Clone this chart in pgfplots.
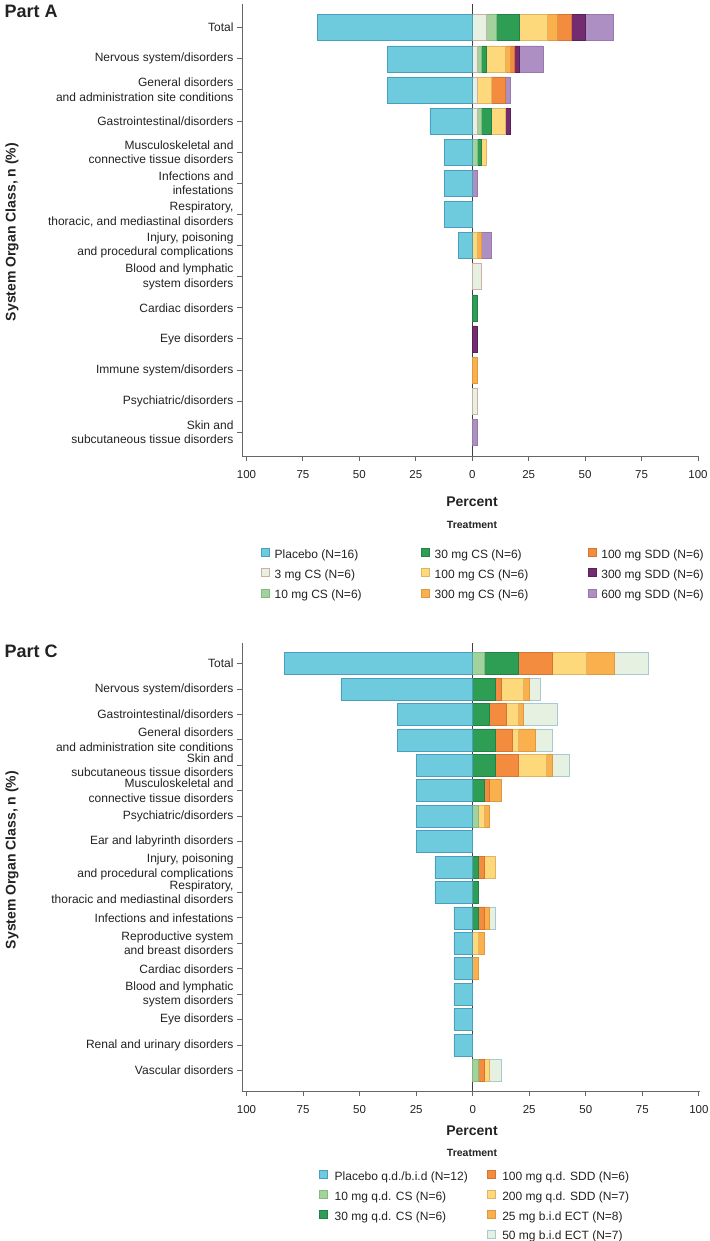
\documentclass[border=0pt]{standalone}
\usepackage{fontspec}
\setmainfont{Liberation Sans}
\usepackage{pgfplots}
\usepackage{pgfplotstable}
\pgfplotsset{compat=1.18}

\definecolor{cP}{HTML}{6ECBDD}\definecolor{cPd}{HTML}{4C9EBE}
\definecolor{cVL}{HTML}{E6F1E1}\definecolor{cVLd}{HTML}{CFAEA6}
\definecolor{cVLc}{HTML}{A9C9D2}
\definecolor{cLG}{HTML}{A2D39C}\definecolor{cLGd}{HTML}{86B882}
\definecolor{cG}{HTML}{2E9E55}\definecolor{cGd}{HTML}{23804A}
\definecolor{cY}{HTML}{FDD97B}\definecolor{cYd}{HTML}{DDB565}
\definecolor{cLO}{HTML}{F9B04D}\definecolor{cLOd}{HTML}{DC9940}
\definecolor{cO}{HTML}{F48C3F}\definecolor{cOd}{HTML}{D47532}
\definecolor{cPu}{HTML}{722C6F}\definecolor{cPud}{HTML}{5A2058}
\definecolor{cLa}{HTML}{AE8FC4}\definecolor{cLad}{HTML}{9878AE}
\definecolor{axc}{HTML}{666666}
\definecolor{txc}{HTML}{222222}

% Part A: percentages (placebo plotted to the left as negative values)
\pgfplotstableread{
cat P s3 s10 s30 c100 c300 d100 d300 d600
0 -68.75 6.25 4.17 10.42 12.50 4.17 6.25 6.25 12.50
1 -37.50 2.08 2.08 2.08 8.33 2.08 2.08 2.08 10.42
2 -37.50 2.08 0 0 6.25 0 6.25 0 2.08
3 -18.75 2.08 2.08 4.17 6.25 0 0 2.08 0
4 -12.50 0 2.08 2.08 2.08 0 0 0 0
5 -12.50 0 0 0 0 0 0 0 2.08
6 -12.50 0 0 0 0 0 0 0 0
7 -6.25 0 0 0 2.08 2.08 0 0 4.17
8 0 4.17 0 0 0 0 0 0 0
9 0 0 0 2.08 0 0 0 0 0
10 0 0 0 0 0 0 0 2.08 0
11 0 0 0 0 0 2.08 0 0 0
12 0 2.08 0 0 0 0 0 0 0
13 0 0 0 0 0 0 0 0 2.08
}\tabA

% Part C
\pgfplotstableread{
cat P m10 m30 d100 d200 e25 e50
0 -83.33 5 15 15 15 12.5 15
1 -58.33 0 10 2.5 10 2.5 5
2 -33.33 0 7.5 7.5 5 2.5 15
3 -33.33 0 10 7.5 2.5 7.5 7.5
4 -25 0 10 10 12.5 2.5 7.5
5 -25 0 5 2.5 0 5 0
6 -25 2.5 0 0 2.5 2.5 0
7 -25 0 0 0 0 0 0
8 -16.67 0 2.5 2.5 5 0 0
9 -16.67 0 2.5 0 0 0 0
10 -8.33 0 2.5 2.5 0 2.5 2.5
11 -8.33 0 0 0 2.5 2.5 0
12 -8.33 0 0 0 0 2.5 0
13 -8.33 0 0 0 0 0 0
14 -8.33 0 0 0 0 0 0
15 -8.33 0 0 0 0 0 0
16 0 2.5 0 2.5 2.5 0 5
}\tabC

\tikzset{zeroline/.style={draw=black!75, line width=0.9pt}}

\pgfplotsset{
  mybase/.style={
    scale only axis,
    xbar stacked,
    stack negative=separate,
    bar shift=0pt,
    axis x line*=bottom, axis y line*=left,
    axis line style={draw=axc, line width=1pt, -},
    tick style={draw=axc, line width=1pt},
    tick align=outside, major tick length=5pt,
    xmin=-102,
    xtick={-100,-75,-50,-25,0,25,50,75,100},
    xticklabels={100,75,50,25,0,25,50,75,100},
    /pgf/number format/assume math mode=true,
    xticklabel style={font=\fontsize{11.5}{13}\selectfont, text=txc, yshift=-6pt},
    yticklabel style={align=right, font=\fontsize{12}{14.5}\selectfont, text=txc},
    y dir=reverse,
    clip=false,
    every axis plot/.append style={line width=0.5pt},
    legend image code/.code={\draw[##1, line width=0.5pt] (0pt,-1pt) rectangle (8pt,7pt);},
    legend cell align=left,
  },
}

\begin{document}
\begin{tikzpicture}
\useasboundingbox (0,0) rectangle (709pt,-1241pt);

% ---------------- Part A ----------------
\begin{axis}[mybase,
  at={(242pt,-4pt)}, anchor=north west,
  width=456pt, height=452pt,
  xmax=100,
  ymin=-0.76, ymax=13.76,
  bar width=26pt,
  ytick={0,...,13},
  yticklabels={Total,
    Nervous system/disorders,
    {General disorders\\and administration site conditions},
    Gastrointestinal/disorders,
    {Musculoskeletal and\\connective tissue disorders},
    {Infections and\\infestations},
    {Respiratory,\\thoracic, and mediastinal disorders},
    {Injury, poisoning\\and procedural complications},
    {Blood and lymphatic\\system disorders},
    Cardiac disorders,
    Eye disorders,
    Immune system/disorders,
    Psychiatric/disorders,
    {Skin and\\subcutaneous tissue disorders}},
  legend columns=3,
  legend style={at={(axis description cs:0.035,-0.199)}, anchor=north west,
    draw=none, fill=none, font=\fontsize{12}{14}\selectfont,
    row sep=7pt,
    nodes={inner sep=0pt, text height=9pt, text depth=3pt, text=txc},
    /tikz/every odd column/.append style={column sep=5pt},
    /tikz/every even column/.append style={column sep=59.5pt}},
]
\addplot[fill=cP, draw=cPd, forget plot] table[x=P, y=cat] {\tabA};
\addplot[fill=cVL, draw=cVLd, forget plot] table[x=s3, y=cat] {\tabA};
\addplot[fill=cLG, draw=cLGd, forget plot] table[x=s10, y=cat] {\tabA};
\addplot[fill=cG, draw=cGd, forget plot] table[x=s30, y=cat] {\tabA};
\addplot[fill=cY, draw=cYd, forget plot] table[x=c100, y=cat] {\tabA};
\addplot[fill=cLO, draw=cLOd, forget plot] table[x=c300, y=cat] {\tabA};
\addplot[fill=cO, draw=cOd, forget plot] table[x=d100, y=cat] {\tabA};
\addplot[fill=cPu, draw=cPud, forget plot] table[x=d300, y=cat] {\tabA};
\addplot[fill=cLa, draw=cLad, forget plot] table[x=d600, y=cat] {\tabA};
\draw[zeroline] (axis cs:0,-0.76) -- (axis cs:0,13.76);
\addlegendimage{fill=cP, draw=cPd}\addlegendentry{Placebo (N=16)}
\addlegendimage{fill=cG, draw=cGd}\addlegendentry{30 mg CS (N=6)}
\addlegendimage{fill=cO, draw=cOd}\addlegendentry{100 mg SDD (N=6)}
\addlegendimage{fill=cVL, draw=cVLd}\addlegendentry{3 mg CS (N=6)}
\addlegendimage{fill=cY, draw=cYd}\addlegendentry{100 mg CS (N=6)}
\addlegendimage{fill=cPu, draw=cPud}\addlegendentry{300 mg SDD (N=6)}
\addlegendimage{fill=cLG, draw=cLGd}\addlegendentry{10 mg CS (N=6)}
\addlegendimage{fill=cLO, draw=cLOd}\addlegendentry{300 mg CS (N=6)}
\addlegendimage{fill=cLa, draw=cLad}\addlegendentry{600 mg SDD (N=6)}
\end{axis}

\node[anchor=north west, font=\bfseries\fontsize{18}{20}\selectfont, text=txc] at (1pt,-2pt) {Part A};
\node[rotate=90, font=\bfseries\fontsize{14}{16}\selectfont, text=txc] at (12pt,-232pt) {System Organ Class, n (\%)};
\node[font=\bfseries\fontsize{14}{16}\selectfont, text=txc] at (472pt,-502pt) {Percent};
\node[font=\bfseries\fontsize{10.5}{12}\selectfont, text=txc] at (472pt,-525pt) {Treatment};

% ---------------- Part C ----------------
\begin{axis}[mybase,
  at={(242pt,-643pt)}, anchor=north west,
  width=458pt, height=448pt,
  xmax=100.5,
  ymin=-0.81, ymax=16.81,
  bar width=22pt,
  ytick={0,...,16},
  yticklabels={Total,
    Nervous system/disorders,
    Gastrointestinal/disorders,
    {General disorders\\and administration site conditions},
    {Skin and\\subcutaneous tissue disorders},
    {Musculoskeletal and\\connective tissue disorders},
    Psychiatric/disorders,
    Ear and labyrinth disorders,
    {Injury, poisoning\\and procedural complications},
    {Respiratory,\\thoracic and mediastinal disorders},
    Infections and infestations,
    {Reproductive system\\and breast disorders},
    Cardiac disorders,
    {Blood and lymphatic\\system disorders},
    Eye disorders,
    Renal and urinary disorders,
    Vascular disorders},
  legend columns=2,
  legend style={at={(axis description cs:0.1616,-0.172)}, anchor=north west,
    draw=none, fill=none, font=\fontsize{12}{14}\selectfont,
    row sep=6.5pt,
    nodes={inner sep=0pt, text height=9pt, text depth=3pt, text=txc},
    /tikz/every odd column/.append style={column sep=7pt},
    /tikz/every even column/.append style={column sep=19pt}},
]
\addplot[fill=cP, draw=cPd, forget plot] table[x=P, y=cat] {\tabC};
\addplot[fill=cLG, draw=cLGd, forget plot] table[x=m10, y=cat] {\tabC};
\addplot[fill=cG, draw=cGd, forget plot] table[x=m30, y=cat] {\tabC};
\addplot[fill=cO, draw=cOd, forget plot] table[x=d100, y=cat] {\tabC};
\addplot[fill=cY, draw=cYd, forget plot] table[x=d200, y=cat] {\tabC};
\addplot[fill=cLO, draw=cLOd, forget plot] table[x=e25, y=cat] {\tabC};
\addplot[fill=cVL, draw=cVLc, forget plot] table[x=e50, y=cat] {\tabC};
\draw[zeroline] (axis cs:0,-0.81) -- (axis cs:0,16.81);
\addlegendimage{fill=cP, draw=cPd}\addlegendentry{Placebo q.d./b.i.d (N=12)}
\addlegendimage{fill=cO, draw=cOd}\addlegendentry{100 mg q.d. SDD (N=6)}
\addlegendimage{fill=cLG, draw=cLGd}\addlegendentry{10 mg q.d. CS (N=6)}
\addlegendimage{fill=cY, draw=cYd}\addlegendentry{200 mg q.d. SDD (N=7)}
\addlegendimage{fill=cG, draw=cGd}\addlegendentry{30 mg q.d. CS (N=6)}
\addlegendimage{fill=cLO, draw=cLOd}\addlegendentry{25 mg b.i.d ECT (N=8)}
\addlegendimage{empty legend}\addlegendentry{}
\addlegendimage{fill=cVL, draw=cVLc}\addlegendentry{50 mg b.i.d ECT (N=7)}
\end{axis}

\node[anchor=north west, font=\bfseries\fontsize{18}{20}\selectfont, text=txc] at (1pt,-641pt) {Part C};
\node[rotate=90, font=\bfseries\fontsize{14}{16}\selectfont, text=txc] at (12pt,-860pt) {System Organ Class, n (\%)};
\node[font=\bfseries\fontsize{14}{16}\selectfont, text=txc] at (472pt,-1131pt) {Percent};
\node[font=\bfseries\fontsize{10.5}{12}\selectfont, text=txc] at (472pt,-1153pt) {Treatment};
\end{tikzpicture}
\end{document}
